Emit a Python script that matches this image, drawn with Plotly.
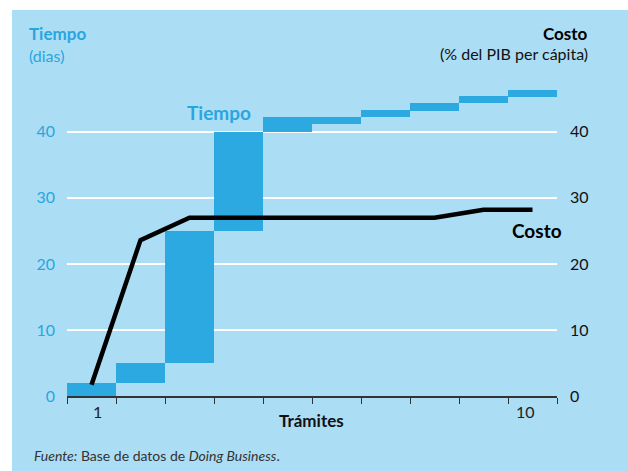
import plotly.graph_objects as go

# Data
tramites = [1, 2, 3, 4, 5, 6, 7, 8, 9, 10]
tiempo_inicio = [0, 2, 5, 25, 40, 41.2, 42.3, 43.2, 44.3, 45.2]
tiempo_fin = [2, 5, 25, 40, 42.3, 42.3, 43.3, 44.4, 45.5, 46.4]
costo = [1.7, 23.6, 27.0, 27.0, 27.0, 27.0, 27.0, 27.0, 28.2, 28.2]
y_ticks = [0, 10, 20, 30, 40]
x_tick_labels = ["1", "10"]

BG = "#ABDDF5"
BAR = "#2DA9E1"
BLUE_TXT = "#2AA5DE"
FONT = "Lato"

W, H = 628, 471
L, R, T, B = 67, 71, 79, 75
PW, PH = W - L - R, H - T - B


def px(x):
    return (x - L) / PW


def py(y):
    return (H - B - y) / PH


fig = go.Figure()
fig.add_trace(go.Bar(
    x=tramites,
    y=[f - s for s, f in zip(tiempo_inicio, tiempo_fin)],
    base=tiempo_inicio,
    width=1,
    marker=dict(color=BAR, line=dict(width=0)),
    showlegend=False,
    hoverinfo="skip",
))
fig.add_trace(go.Scatter(
    x=tramites,
    y=costo,
    yaxis="y2",
    mode="lines",
    line=dict(color="black", width=4.5),
    showlegend=False,
))

annotations = [
    dict(text="<b>Tiempo</b>", x=px(27), y=py(33), xanchor="left", yanchor="middle",
         font=dict(color=BLUE_TXT, size=17)),
    dict(text="(dias)", x=px(27), y=py(55), xanchor="left", yanchor="middle",
         font=dict(color=BLUE_TXT, size=16)),
    dict(text="<b>Costo</b>", x=px(590), y=py(33), xanchor="right", yanchor="middle",
         font=dict(color="black", size=17)),
    dict(text="(% del PIB per cápita)", x=px(590), y=py(53), xanchor="right", yanchor="middle",
         font=dict(color="#111", size=16)),
    dict(text="<b>Tiempo</b>", x=px(219), y=py(112), xanchor="center", yanchor="middle",
         font=dict(color=BLUE_TXT, size=19)),
    dict(text="<b>Costo</b>", x=px(537), y=py(230), xanchor="center", yanchor="middle",
         font=dict(color="black", size=19)),
    dict(text="<b>Trámites</b>", x=px(311), y=py(420), xanchor="center", yanchor="middle",
         font=dict(color="#111", size=17)),
    dict(text=x_tick_labels[0], x=px(97), y=py(412), xanchor="center", yanchor="middle",
         font=dict(color="#222", size=16)),
    dict(text=x_tick_labels[1], x=px(525), y=py(412), xanchor="center", yanchor="middle",
         font=dict(color="#222", size=16)),
    dict(text="<i>Fuente:</i> Base de datos de <i>Doing Business</i>.", x=px(32), y=py(455),
         xanchor="left", yanchor="middle", font=dict(color="#333", size=14)),
]
for a in annotations:
    a.update(xref="paper", yref="paper", showarrow=False)

shapes = [
    dict(type="rect", xref="paper", yref="paper", x0=px(-5), x1=px(12), y0=py(480), y1=py(-5),
         fillcolor="white", line=dict(width=0), layer="below"),
    dict(type="rect", xref="paper", yref="paper", x0=px(-5), x1=px(640), y0=py(10), y1=py(-5),
         fillcolor="white", line=dict(width=0), layer="below"),
]

fig.update_layout(
    width=W, height=H,
    margin=dict(l=L, r=R, t=T, b=B, pad=0),
    paper_bgcolor=BG,
    plot_bgcolor="rgba(0,0,0,0)",
    font=dict(family=FONT, size=15),
    annotations=annotations,
    shapes=shapes,
    bargap=0,
    hovermode=False,
    xaxis=dict(
        range=[0.5, 10.5],
        tickmode="array",
        tickvals=[v + 0.5 for v in [0] + tramites],
        showticklabels=False,
        ticks="outside", ticklen=6, tickcolor="#333", tickwidth=1.2,
        showline=True, linecolor="#333", linewidth=1.5,
        showgrid=False, zeroline=False,
    ),
    yaxis=dict(
        range=[0, 48],
        tickmode="array",
        tickvals=y_ticks,
        tickfont=dict(color=BLUE_TXT, size=16),
        showgrid=True, gridcolor="white", gridwidth=1.5,
        zeroline=False, showline=False, ticks="",
        ticklabelstandoff=11,
    ),
    yaxis2=dict(
        range=[0, 48],
        overlaying="y", side="right",
        tickmode="array",
        tickvals=y_ticks,
        tickfont=dict(color="#111", size=16),
        showgrid=False, zeroline=False, showline=False, ticks="",
        ticklabelstandoff=12,
    ),
)

fig.write_html(
    "out.html",
    config={"displayModeBar": False},
    post_script="document.body.style.margin='0px';",
)
